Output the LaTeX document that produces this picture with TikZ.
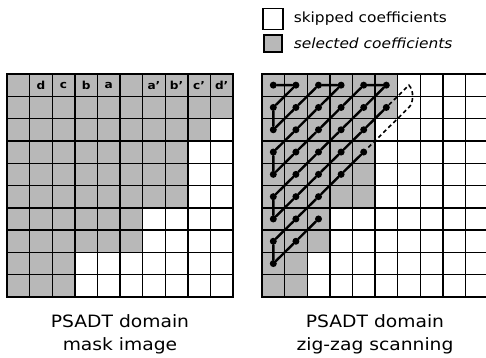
\documentclass[tikz,border=0pt]{standalone}
\usepackage{fontspec}
\setmainfont{DejaVu Sans}[FakeStretch=1.1]
\usetikzlibrary{positioning}
\tikzset
{
	cell/.style = {rectangle, draw=black, line width=1.4pt, minimum width=22.6pt, minimum height=22.3pt, inner sep=0pt},
	selcell/.style = {cell, fill=black!28!white},
	cellabel/.style = {font=\bfseries\fontsize{11}{11}\selectfont, inner sep=0pt},
	scandot/.style = {circle, fill=black, inner sep=0pt, minimum size=7pt},
	scanline/.style = {line width=2.4pt, line cap=round},
	skipline/.style = {line width=1.6pt, dash pattern=on 4pt off 3pt},
	legendtext/.style = {font=\fontsize{14}{14}\selectfont, inner sep=0pt},
	caption/.style = {font=\fontsize{17}{17}\selectfont, inner sep=0pt, anchor=base}
}

\begin{document}
\begin{tikzpicture}[x=1pt, y=-1pt]
\useasboundingbox[fill=white] (0,0) rectangle (486,357);

% mask image
\foreach \n [count=\r] in {10,10,9,8,8,8,6,6,3,3}
	\foreach \c in {1,...,10}
	{
		\ifnum\c>\n
			\node[cell] (L-\r-\c) at ({7+(\c-0.5)*22.6},{74+(\r-0.5)*22.3}) {};
		\else
			\node[selcell] (L-\r-\c) at ({7+(\c-0.5)*22.6},{74+(\r-0.5)*22.3}) {};
		\fi
	}
\foreach \c/\t in {2/d,3/c,4/b,5/a,7/a',8/b',9/c',10/d'}
	\node[cellabel] (lab-\c) at (L-1-\c) {\t};

% zig-zag scanning
\foreach \n [count=\r] in {6,6,5,5,5,5,3,3,2,2}
	\foreach \c in {1,...,10}
	{
		\ifnum\c>\n
			\node[cell] (R-\r-\c) at ({262+(\c-0.5)*22.6},{74+(\r-0.5)*22.3}) {};
		\else
			\node[selcell] (R-\r-\c) at ({262+(\c-0.5)*22.6},{74+(\r-0.5)*22.3}) {};
		\fi
	}
\foreach \r/\c in {1/1,1/2,2/1,3/1,2/2,1/3,1/4,2/3,3/2,4/1,5/1,4/2,3/3,2/4,1/5,1/6,2/5,3/4,4/3,5/2,6/1,7/1,6/2,5/3,4/4,3/5,2/6,4/5,5/4,6/3,7/2,8/1,9/1,8/2,7/3}
	\node[scandot] (d-\r-\c) at (R-\r-\c) {};
\draw[scanline] (d-1-1) -- (d-1-2) -- (d-2-1) -- (d-3-1) -- (d-2-2) -- (d-1-3) -- (d-1-4) -- (d-2-3) -- (d-3-2) -- (d-4-1) -- (d-5-1) -- (d-4-2) -- (d-3-3) -- (d-2-4) -- (d-1-5) -- (d-1-6) -- (d-2-5) -- (d-3-4) -- (d-4-3) -- (d-5-2) -- (d-6-1) -- (d-7-1) -- (d-6-2) -- (d-5-3) -- (d-4-4) -- (d-3-5) -- (d-2-6);
\draw[skipline] (d-2-6) -- (R-1-7.center) .. controls +(5,5) and +(5,-5) .. (R-2-7.center) -- (d-4-5);
\draw[scanline] (d-4-5) -- (d-5-4) -- (d-6-3) -- (d-7-2) -- (d-8-1) -- (d-9-1) -- (d-8-2) -- (d-7-3);

% legend
\node[cell, minimum width=20pt, minimum height=21pt, line width=1.1pt] (skipbox) at (273,19) {};
\node[selcell, minimum width=18pt, minimum height=17pt, line width=1.1pt] (selbox) at (273,43.5) {};
\node[legendtext, right=10pt of skipbox] (skiptext) {skipped coefficients};
\node[legendtext, right=11pt of selbox] (seltext) {\itshape selected coefficients};

% captions
\node[caption] (capL1) at (120,327) {PSADT domain};
\node[caption] (capL2) at (120,350) {mask image};
\node[caption] (capR1) at (375,327) {PSADT domain};
\node[caption] (capR2) at (375,350) {zig-zag scanning};
\end{tikzpicture}
\end{document}
